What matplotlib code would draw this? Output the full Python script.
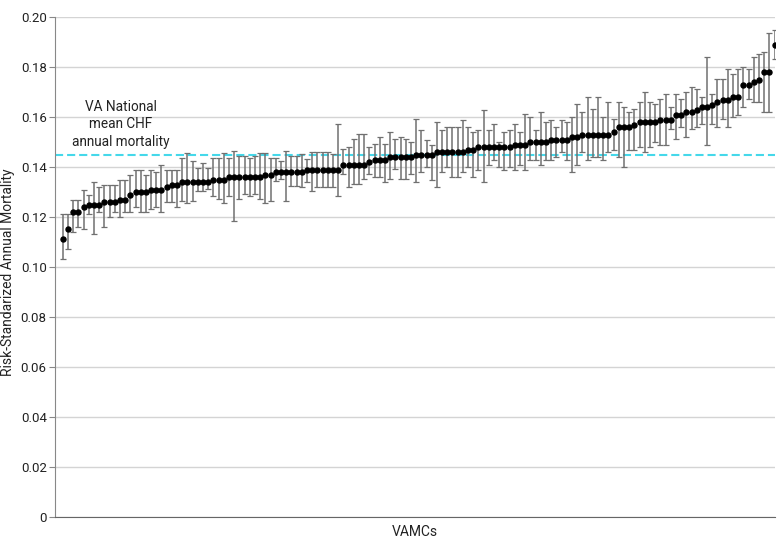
import numpy as np
import matplotlib.pyplot as plt

plt.rcParams['font.family'] = ['Roboto', 'DejaVu Sans']

# risk-standardized annual mortality per VAMC, sorted
mortality = [
    0.111, 0.115, 0.122, 0.122, 0.124, 0.125, 0.125, 0.125, 0.126, 0.126,
    0.126, 0.127, 0.127, 0.129, 0.130, 0.130, 0.130, 0.131, 0.131, 0.131,
    0.132, 0.133, 0.133, 0.134, 0.134, 0.134, 0.134, 0.134, 0.134, 0.135,
    0.135, 0.135, 0.136, 0.136, 0.136, 0.136, 0.136, 0.136, 0.136, 0.137,
    0.137, 0.138, 0.138, 0.138, 0.138, 0.138, 0.138, 0.139, 0.139, 0.139,
    0.139, 0.139, 0.139, 0.139, 0.141, 0.141, 0.141, 0.141, 0.141, 0.142,
    0.143, 0.143, 0.143, 0.144, 0.144, 0.144, 0.144, 0.144, 0.145, 0.145,
    0.145, 0.145, 0.146, 0.146, 0.146, 0.146, 0.146, 0.146, 0.147, 0.147,
    0.148, 0.148, 0.148, 0.148, 0.148, 0.148, 0.148, 0.149, 0.149, 0.149,
    0.150, 0.150, 0.150, 0.150, 0.151, 0.151, 0.151, 0.151, 0.152, 0.152,
    0.153, 0.153, 0.153, 0.153, 0.153, 0.153, 0.154, 0.156, 0.156, 0.156,
    0.157, 0.158, 0.158, 0.158, 0.158, 0.159, 0.159, 0.159, 0.161, 0.161,
    0.162, 0.162, 0.163, 0.164, 0.164, 0.165, 0.166, 0.167, 0.167, 0.168,
    0.168, 0.173, 0.173, 0.174, 0.175, 0.178, 0.178, 0.189,
]

upper = [
    0.121, 0.121, 0.127, 0.127, 0.131, 0.129, 0.134, 0.132, 0.133, 0.133,
    0.133, 0.135, 0.135, 0.137, 0.139, 0.139, 0.137, 0.139, 0.138, 0.141,
    0.139, 0.139, 0.139, 0.1436, 0.1455, 0.1425, 0.1396, 0.1416, 0.1396, 0.1436,
    0.1436, 0.1455, 0.1436, 0.1464, 0.1445, 0.1445, 0.1436, 0.1445, 0.1455, 0.1455,
    0.1436, 0.1436, 0.1425, 0.1464, 0.1445, 0.1445, 0.1452, 0.1433, 0.1461, 0.1461,
    0.1461, 0.1461, 0.1452, 0.1572, 0.1472, 0.1481, 0.1511, 0.1531, 0.1531, 0.1481,
    0.1492, 0.1521, 0.1492, 0.1541, 0.1511, 0.1521, 0.1511, 0.1501, 0.1591, 0.1549,
    0.1509, 0.1488, 0.158, 0.1549, 0.156, 0.156, 0.156, 0.1589, 0.156, 0.154,
    0.1549, 0.1629, 0.1549, 0.1571, 0.150, 0.154, 0.1549, 0.1571, 0.154, 0.1611,
    0.160, 0.1549, 0.162, 0.158, 0.1589, 0.156, 0.1589, 0.158, 0.160, 0.1651,
    0.162, 0.168, 0.1631, 0.168, 0.160, 0.166, 0.1591, 0.166, 0.164, 0.162,
    0.1631, 0.166, 0.170, 0.166, 0.1651, 0.1671, 0.1691, 0.1641, 0.1691, 0.1671,
    0.1701, 0.1721, 0.1711, 0.1681, 0.1839, 0.1691, 0.1751, 0.1751, 0.1791, 0.1772,
    0.1791, 0.1801, 0.1791, 0.1841, 0.1852, 0.186, 0.1937, 0.1951,
]

lower = [
    0.103, 0.107, 0.114, 0.116, 0.115, 0.121, 0.113, 0.122, 0.116, 0.120,
    0.122, 0.120, 0.122, 0.122, 0.124, 0.122, 0.122, 0.123, 0.124, 0.122,
    0.126, 0.126, 0.124, 0.1265, 0.1255, 0.1265, 0.1304, 0.1304, 0.1313, 0.1284,
    0.1273, 0.1255, 0.1284, 0.1185, 0.1273, 0.1293, 0.1284, 0.1293, 0.1273, 0.1255,
    0.1264, 0.1343, 0.1352, 0.1265, 0.1324, 0.1324, 0.1321, 0.1341, 0.1303, 0.1321,
    0.1321, 0.1321, 0.1321, 0.1283, 0.1371, 0.1321, 0.1331, 0.1331, 0.1351, 0.1371,
    0.1361, 0.1361, 0.1341, 0.1351, 0.1391, 0.1351, 0.1351, 0.1371, 0.1341, 0.138,
    0.140, 0.1349, 0.132, 0.138, 0.140, 0.136, 0.136, 0.138, 0.140, 0.136,
    0.1389, 0.134, 0.1409, 0.1429, 0.140, 0.1389, 0.140, 0.1389, 0.1409, 0.1389,
    0.143, 0.1429, 0.1409, 0.1429, 0.1429, 0.144, 0.146, 0.1429, 0.138, 0.1409,
    0.146, 0.1429, 0.144, 0.144, 0.1429, 0.146, 0.1469, 0.144, 0.140, 0.1469,
    0.1469, 0.148, 0.146, 0.148, 0.150, 0.1489, 0.1489, 0.1551, 0.1511, 0.156,
    0.152, 0.1551, 0.156, 0.1571, 0.149, 0.1571, 0.156, 0.1591, 0.1561, 0.160,
    0.161, 0.1641, 0.1671, 0.1661, 0.1661, 0.1621, 0.1621, 0.1831,
]

national_mean = 0.145
yticks = [0, 0.02, 0.04, 0.06, 0.08, 0.10, 0.12, 0.14, 0.16, 0.18, 0.20]
ytick_labels = ['0', '0.02', '0.04', '0.06', '0.08', '0.10', '0.12', '0.14', '0.16', '0.18', '0.20']

mortality = np.array(mortality)
x = np.arange(len(mortality))
err = [mortality - np.array(lower), np.array(upper) - mortality]

fig = plt.figure(figsize=(7.83, 5.51), dpi=100)
ax = fig.add_axes([0.0702, 0.0626, 0.9198, 0.906])

ax.errorbar(x, mortality, yerr=err, fmt='none', ecolor='#707070', elinewidth=1.1,
            capsize=2.2, capthick=0.9, zorder=2)
ax.plot(x, mortality, 'o', color='black', markersize=3.6, zorder=3)

ax.axhline(national_mean, color='#45d8ea', lw=1.5, dashes=(3.9, 1.9), zorder=1)
ax.text(11.2, 0.1474, 'VA National\nmean CHF\nannual mortality', ha='center', va='bottom',
        fontsize=9.8, linespacing=1.3, color='#222222')

ax.set_xlim(-1.5, len(mortality) - 0.9)
ax.set_ylim(0, 0.20)
ax.set_yticks(yticks)
ax.set_yticklabels(ytick_labels)
ax.set_xticks([])
ax.yaxis.grid(True, color='#d4d4d4', lw=1)
ax.set_axisbelow(True)

for s in ['top', 'right']:
    ax.spines[s].set_visible(False)
ax.spines['left'].set_color('#888888')
ax.spines['bottom'].set_color('#666666')
ax.tick_params(axis='y', colors='#888888', labelcolor='#222222', labelsize=9.5,
               length=4.5, pad=1.5)

ax.set_xlabel('VAMCs', fontsize=10, color='#222222', labelpad=6)
ax.set_ylabel('Risk-Standarized Annual Mortality', fontsize=10, color='#222222')
ax.yaxis.set_label_coords(-0.0555, 0.49)

fig.savefig('out.png', dpi=100)
